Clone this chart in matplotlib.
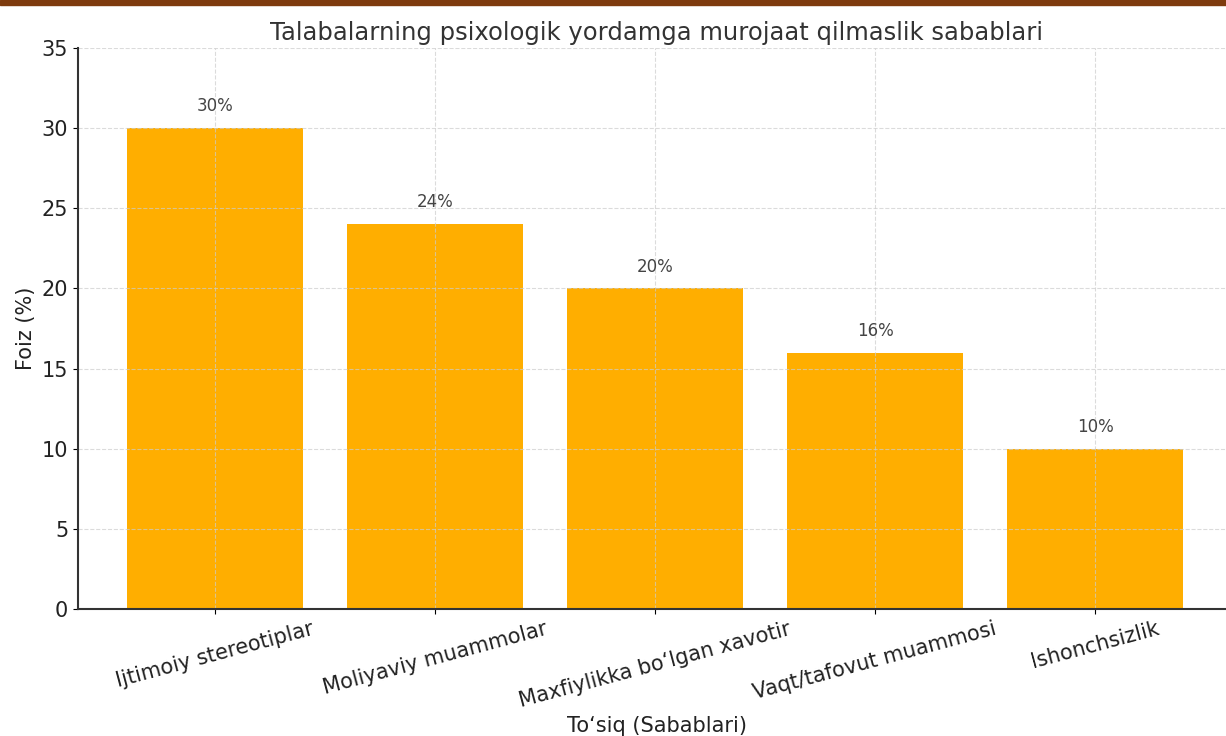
import matplotlib
matplotlib.use("Agg")
import matplotlib.pyplot as plt
from matplotlib.patches import Rectangle

# Data
categories = [
    "Ijtimoiy stereotiplar",
    "Moliyaviy muammolar",
    "Maxfiylikka bo\u2018lgan xavotir",
    "Vaqt/tafovut muammosi",
    "Ishonchsizlik",
]
values = [30, 24, 20, 16, 10]
yticks = [0, 5, 10, 15, 20, 25, 30, 35]

fig = plt.figure(figsize=(12.26, 7.36), dpi=100)
# axes runs past the right edge, as in the cropped original
ax = fig.add_axes([78 / 1226, 1 - 609 / 736, 1158 / 1226, 561 / 736])

x = range(len(categories))
bars = ax.bar(x, values, width=0.8, color="#FFAE00")

for b, v in zip(bars, values):
    ax.text(b.get_x() + b.get_width() / 2, v + 0.8, f"{v}%",
            ha="center", va="bottom", fontsize=12, color="#444444")

ax.set_xticks(list(x))
ax.set_xticklabels(categories, rotation=15, fontsize=15, color="#222222")
ax.set_yticks(yticks)
ax.tick_params(axis="y", labelsize=15, labelcolor="#222222")
ax.set_ylim(0, 35)
ax.set_xlim(-0.623, 4.64)

ax.set_title("Talabalarning psixologik yordamga murojaat qilmaslik sabablari",
             fontsize=17.5, color="#333333", pad=6)
ax.set_xlabel("To\u2018siq (Sabablari)", fontsize=15, color="#222222")
ax.set_ylabel("Foiz (%)", fontsize=15, color="#222222")

ax.grid(True, linestyle="--", color="#cccccc", alpha=0.7)
ax.spines["top"].set_visible(False)
ax.spines["right"].set_visible(False)
for s in ("left", "bottom"):
    ax.spines[s].set_linewidth(1.5)
    ax.spines[s].set_color("#333333")

# brown strip along the top edge
fig.patches.append(Rectangle((0, 1 - 5 / 736), 1, 5 / 736,
                             transform=fig.transFigure, color="#7E3B0E"))

fig.savefig("out.png", dpi=100)
